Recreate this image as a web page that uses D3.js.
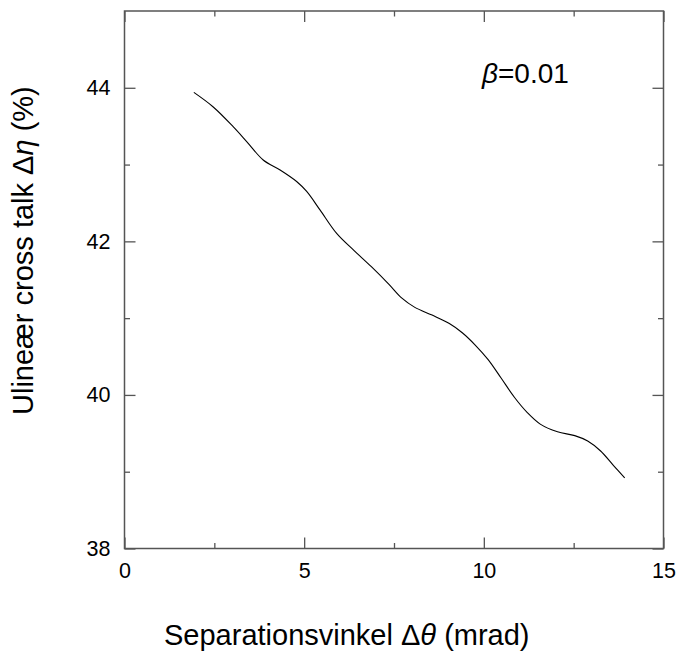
<!DOCTYPE html>
<html>
<meta charset="utf-8">
<style>
  body { margin: 0; background: #fff; }
  text { font-family: "Liberation Sans", Arial, sans-serif; fill: #000; }
  .frame { fill: none; stroke: #555; stroke-width: 1.5; }
  .tick line { stroke: #555; stroke-width: 1.3; }
  .curve { fill: none; stroke: #000; stroke-width: 1.1; }
</style>
<body>
<script src="https://d3js.org/d3.v7.min.js"></script>
<script>
  // separation angle (mrad) and nonlinear cross talk (%)
  let angle = [1.93, 2.47, 3.03, 3.40, 3.86, 4.33, 4.79, 5.07, 5.44, 5.91, 6.39, 6.87, 7.36,
    7.72, 8.08, 8.56, 9.04, 9.40, 9.76, 10.12, 10.48, 10.85, 11.21, 11.57, 12.05, 12.53, 12.89,
    13.25, 13.61, 13.92];
  let crossTalk = [43.94, 43.75, 43.49, 43.30, 43.06, 42.93, 42.78, 42.65, 42.41, 42.10, 41.88,
    41.67, 41.44, 41.26, 41.14, 41.04, 40.93, 40.81, 40.65, 40.46, 40.22, 39.97, 39.77, 39.62,
    39.52, 39.47, 39.40, 39.27, 39.08, 38.92];

  let xMajor = [0, 5, 10, 15],
    xMinor = [2.5, 7.5, 12.5];
  let yMajor = [38, 40, 42, 44],
    yMinor = [39, 41, 43];

  let width = 677,
    height = 651;
  let mLeft = 124.5, mRight = 663.5, mTop = 11, mBottom = 548.5;

  let svg = d3.select("body").append("svg")
    .attr("width", width)
    .attr("height", height);

  let x = d3.scaleLinear().domain([0, 15]).range([mLeft, mRight]);
  let y = d3.scaleLinear().domain([38, 45]).range([mBottom, mTop]);

  // inward ticks on all four sides
  function ticks(axisFn, scale, major, minor, pos, labels) {
    let big = axisFn(scale).tickValues(major).tickSizeInner(-11).tickSizeOuter(0).tickPadding(14)
      .tickFormat(labels ? d3.format("d") : "");
    let small = axisFn(scale).tickValues(minor).tickSizeInner(-5.5).tickSizeOuter(0).tickFormat("");
    [big, small].forEach(a => {
      let g = svg.append("g").attr("transform", pos).call(a);
      g.select(".domain").remove();
      g.selectAll("text").style("font-size", "21.5px").attr("fill", "#000");
    });
  }
  ticks(d3.axisBottom, x, xMajor, xMinor, `translate(0,${mBottom})`, true);
  ticks(d3.axisTop, x, xMajor, xMinor, `translate(0,${mTop})`, false);
  ticks(d3.axisLeft, y, yMajor, yMinor, `translate(${mLeft},0)`, true);
  ticks(d3.axisRight, y, yMajor, yMinor, `translate(${mRight},0)`, false);

  svg.append("rect")
    .attr("class", "frame")
    .attr("x", mLeft).attr("y", mTop)
    .attr("width", mRight - mLeft).attr("height", mBottom - mTop);

  let line = d3.line()
    .x((d, i) => x(angle[i]))
    .y(d => y(d))
    .curve(d3.curveCatmullRom);

  svg.append("path")
    .attr("class", "curve")
    .attr("d", line(crossTalk));

  // axis titles
  let xt = svg.append("text")
    .attr("x", 164).attr("y", 645)
    .style("font-size", "29px");
  xt.append("tspan").text("Separationsvinkel \u0394");
  xt.append("tspan").style("font-style", "italic").text("\u03b8");
  xt.append("tspan").text(" (mrad)");

  let yt = svg.append("text")
    .attr("transform", "translate(33,415) rotate(-90)")
    .style("font-size", "29px");
  yt.append("tspan").text("Ulineær cross talk \u0394");
  yt.append("tspan").style("font-style", "italic").text("\u03b7");
  yt.append("tspan").text(" (%)");

  let note = svg.append("text")
    .attr("x", 482).attr("y", 83)
    .style("font-size", "28px");
  note.append("tspan").style("font-style", "italic").text("\u03b2");
  note.append("tspan").text("=0.01");
</script>
</body>
</html>
